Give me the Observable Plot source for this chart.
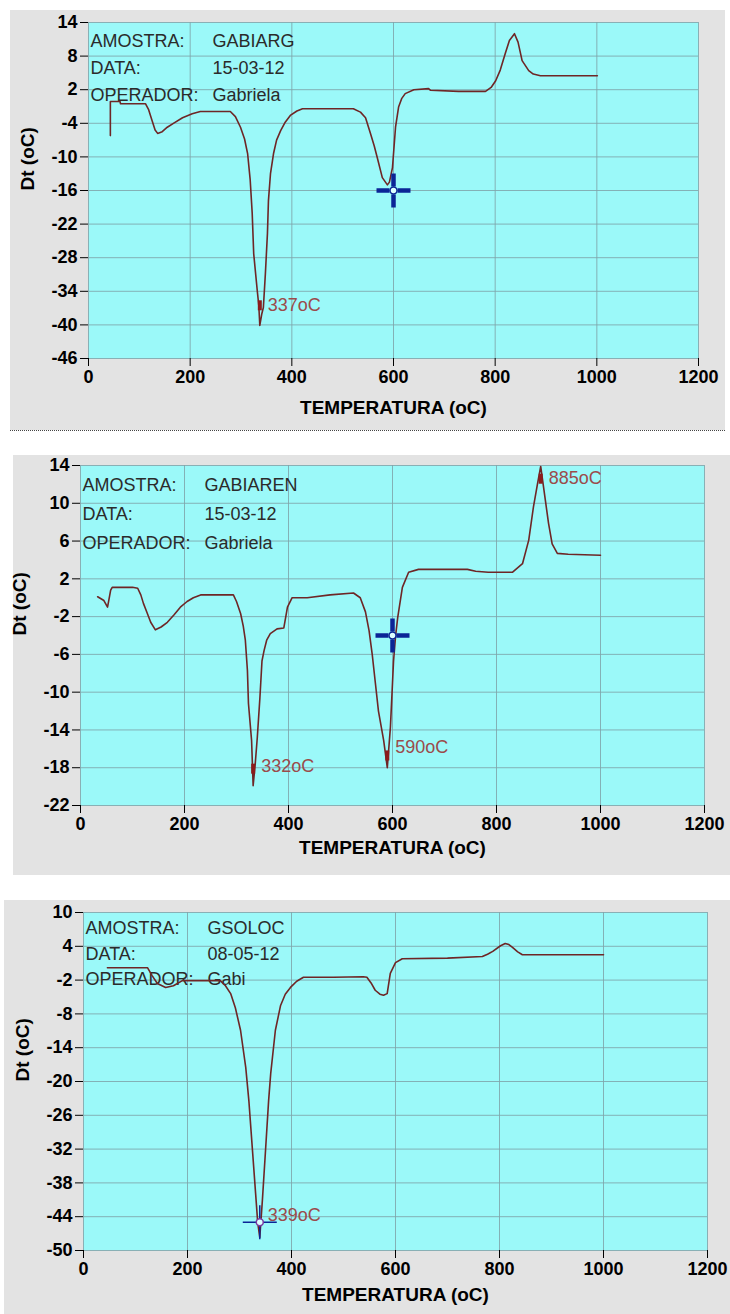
<!DOCTYPE html>
<html>
<head>
<meta charset="utf-8">
<script src="https://cdn.jsdelivr.net/npm/d3@7"></script>
<script src="https://cdn.jsdelivr.net/npm/@observablehq/plot@0.6"></script>
<style>
  html, body { margin: 0; padding: 0; background: #fff; }
  #page { position: relative; width: 730px; height: 1314px; overflow: hidden; background: #fff; }
  .panel { position: absolute; }
  .panel svg { display: block; }
  #p1 { border-bottom: 1px dotted #444; }
</style>
</head>
<body>
<div id="page">
  <div class="panel" id="p1"></div>
  <div class="panel" id="p2"></div>
  <div class="panel" id="p3"></div>
</div>
<script>
// Shared axis ticks (temperature, °C)
const xTicks = [0, 200, 400, 600, 800, 1000, 1200];
const infoKeys = ["AMOSTRA:", "DATA:", "OPERADOR:"];

// ---- Sample GABIARG ----
const gabiargInfo = ["GABIARG", "15-03-12", "Gabriela"];
const gabiargYTicks = [14, 8, 2, -4, -10, -16, -22, -28, -34, -40, -46];
const gabiargTemp = [43, 43, 62, 63, 112, 118, 125, 131, 136, 145, 155, 167, 185, 204, 220, 279, 289, 299, 307, 313, 318, 322, 325, 332, 335, 337, 341, 344, 348, 352, 354, 358, 364, 370, 378, 387, 397, 410, 421, 521, 535, 545, 555, 562, 568, 578, 588, 592, 598, 604, 610, 616, 623, 640, 669, 673, 728, 781, 792, 801, 810, 820, 828, 838, 845, 853, 866, 875, 889, 1001];
const gabiargDt = [-6.2, -0.1, -0.1, -0.5, -0.5, -1.5, -3.5, -5.2, -5.8, -5.5, -4.7, -4.0, -3.0, -2.3, -1.9, -1.9, -2.8, -4.7, -6.8, -9.4, -14, -20, -27.3, -33.9, -36.5, -40.1, -38, -36.9, -30.8, -23.7, -17.8, -13, -9.4, -7, -5.3, -3.8, -2.6, -1.8, -1.4, -1.4, -2, -3, -5.9, -8, -10.1, -13.7, -15, -14.5, -11.9, -4.7, -1.1, 0.4, 1.3, 2.0, 2.2, 1.9, 1.7, 1.7, 2.4, 3.6, 5.5, 8.5, 10.8, 12.0, 10.5, 7.2, 5.4, 4.8, 4.5, 4.5];
const gabiargPeakT = [337];
const gabiargPeakMarkDt = [-36.5];
const gabiargPeakLabelDt = [-36.5];
const gabiargCursor = [600, -16];

// ---- Sample GABIAREN ----
const gabiarenInfo = ["GABIAREN", "15-03-12", "Gabriela"];
const gabiarenYTicks = [14, 10, 6, 2, -2, -6, -10, -14, -18, -22];
const gabiarenTemp = [33, 45, 52, 56, 58, 61, 100, 110, 116, 121, 128, 135, 144, 155, 167, 180, 192, 205, 217, 231, 294, 300, 308, 313, 317, 321, 323, 329, 332, 336, 340, 345, 349, 353, 358, 365, 378, 391, 398, 407, 436, 480, 525, 538, 548, 555, 561, 567, 573, 583, 590, 596, 602, 606, 610, 619, 631, 650, 744, 760, 784, 831, 850, 862, 871, 879, 885, 894, 900, 907, 917, 938, 1000];
const gabiarenDt = [0.1, -0.3, -1.0, 0.2, 0.8, 1.1, 1.1, 1.0, 0.3, -0.6, -1.6, -2.6, -3.4, -3.1, -2.6, -1.8, -1.0, -0.4, 0, 0.3, 0.3, -0.4, -1.7, -3, -4.5, -7.7, -11.2, -15.1, -19.9, -17.6, -14.8, -10.6, -6.7, -5.6, -4.5, -3.8, -3.3, -3.2, -1.0, 0, 0, 0.3, 0.5, 0, -1.5, -3.5, -6.0, -9, -12, -15.1, -18, -13.7, -6.7, -4, -2.1, 1.1, 2.7, 3.0, 3.0, 2.8, 2.7, 2.7, 3.6, 6.1, 9.6, 12.1, 13.9, 10.3, 7.9, 5.7, 4.7, 4.6, 4.5];
const gabiarenPeakT = [332, 590, 885];
const gabiarenPeakMarkDt = [-18.1, -16.7, 12.6];
const gabiarenPeakLabelDt = [-17.8, -15.8, 12.7];
const gabiarenCursor = [600, -4];

// ---- Sample GSOLOC ----
const gsolocInfo = ["GSOLOC", "08-05-12", "Gabi"];
const gsolocYTicks = [10, 4, -2, -8, -14, -20, -26, -32, -38, -44, -50];
const gsolocTemp = [46, 123, 132, 142, 158, 173, 190, 263, 273, 283, 292, 302, 312, 318, 325, 331, 335, 339, 344, 350, 356, 360, 369, 379, 388, 398, 410, 423, 481, 538, 545, 553, 561, 570, 577, 584, 590, 600, 613, 700, 767, 777, 787, 802, 811, 818, 825, 835, 844, 1000];
const gsolocDt = [0.2, 0.2, -1.2, -2.6, -3.3, -3.0, -2.1, -2.1, -3, -4.4, -6.9, -10.9, -17.5, -23.4, -32.3, -39.9, -45, -47.7, -41.1, -32.3, -23.4, -18.6, -10.9, -6.5, -4.5, -3.3, -2.2, -1.5, -1.5, -1.4, -1.5, -2.5, -3.8, -4.5, -4.7, -4.4, -0.8, 1.1, 1.8, 1.9, 2.2, 2.6, 3.1, 4.1, 4.5, 4.3, 3.8, 3.0, 2.5, 2.5];
const gsolocPeakT = [339];
const gsolocPeakMarkDt = [];
const gsolocPeakLabelDt = [-43.8];
const gsolocCursor = [339, -45];

// Colours
const plotBg = "#9bf9f9";
const panelBg = "#e3e3e3";
const gridColor = "#7fa4aa";
const traceColor = "#6e2626";
const peakColor = "#8b1c1c";
const peakTextColor = "#9b4b4b";
const cursorColor = "#0b2596";

const axisFont = "'Liberation Sans', Arial, sans-serif";

// Custom symbols for the cursor cross and the peak marker
const crossThick = {
  draw(ctx) {
    ctx.moveTo(-17, 0); ctx.lineTo(-4, 0);
    ctx.moveTo(4, 0); ctx.lineTo(17, 0);
    ctx.moveTo(0, -17); ctx.lineTo(0, -4);
    ctx.moveTo(0, 4); ctx.lineTo(0, 17);
  }
};
const crossThin = {
  draw(ctx) {
    ctx.moveTo(-17, 0); ctx.lineTo(17, 0);
    ctx.moveTo(0, -17); ctx.lineTo(0, 17);
  }
};
const peakBar = {
  draw(ctx) { ctx.rect(-2, -5, 4, 10); }
};

function thermogram(cfg) {
  const trace = cfg.temp.map((t, i) => ({t, dt: cfg.dt[i]}));
  const marks = cfg.peakT.filter((t, i) => i < cfg.markDt.length).map((t, i) => ({t, dt: cfg.markDt[i]}));
  const labels = cfg.peakT.map((t, i) => ({t, dt: cfg.labelDt[i]}));
  const cursor = [{t: cfg.cursor[0], dt: cfg.cursor[1]}];
  const info = {fontWeight: "normal", fontSize: 18, fill: "#2b2b2b", lineAnchor: "top", textAnchor: "start", frameAnchor: "top-left", lineHeight: cfg.lineHeight, dy: cfg.infoDy};
  return Plot.plot({
    width: cfg.width,
    height: cfg.height,
    marginLeft: cfg.ml, marginRight: cfg.mr, marginTop: cfg.mt, marginBottom: cfg.mb,
    x: {domain: [0, 1200], label: null},
    y: {domain: cfg.yDomain, label: null},
    style: {background: panelBg, fontFamily: axisFont, fontSize: "18px", fontWeight: "bold", color: "#000", overflow: "visible"},
    marks: [
      Plot.frame({fill: plotBg, stroke: null}),
      Plot.gridX(xTicks, {stroke: gridColor, strokeOpacity: 0.85}),
      Plot.gridY(cfg.yTicks, {stroke: gridColor, strokeOpacity: 0.85}),
      Plot.axisX(xTicks, {tickSize: 8, tickPadding: 4, tickFormat: d => String(d), fontSize: 18}),
      Plot.axisY(cfg.yTicks, {tickSize: 8, tickPadding: 3, tickFormat: d => String(d), fontSize: 18}),
      Plot.text(["TEMPERATURA (oC)"], {text: d => d, frameAnchor: "bottom", dy: cfg.xLabelDy, fontSize: 19}),
      Plot.text(["Dt (oC)"], {text: d => d, frameAnchor: "left", rotate: -90, dx: -61, fontSize: 19}),
      Plot.text([infoKeys.join("\n")], {...info, text: d => d, dx: 2}),
      Plot.text([cfg.info.join("\n")], {...info, text: d => d, dx: 124}),
      Plot.line(trace, {x: "t", y: "dt", stroke: traceColor, strokeWidth: 1.6}),
      Plot.dot(marks, {x: "t", y: "dt", symbol: peakBar, fill: peakColor, stroke: null}),
      Plot.text(labels, {x: "t", y: "dt", text: d => `${d.t}oC`, textAnchor: "start", dx: 8, fill: peakTextColor, fontWeight: "normal", fontSize: 18}),
      cfg.thinCursor
        ? Plot.dot(cursor, {x: "t", y: "dt", symbol: crossThin, fill: "none", stroke: cursorColor, strokeWidth: 1.5})
        : Plot.dot(cursor, {x: "t", y: "dt", symbol: crossThick, fill: "none", stroke: cursorColor, strokeWidth: 4.5}),
      Plot.dot(cursor, {x: "t", y: "dt", r: 3.5, fill: "#dff", stroke: cfg.thinCursor ? "#7a3aa0" : cursorColor, strokeWidth: 1.5})
    ]
  });
}

const panels = [
  {id: "p1", left: 10, top: 10, width: 715, height: 420, ml: 78, mr: 27, mt: 12, mb: 72, xLabelDy: 55,
   yDomain: [-46, 14], yTicks: gabiargYTicks, temp: gabiargTemp, dt: gabiargDt, info: gabiargInfo,
   peakT: gabiargPeakT, markDt: gabiargPeakMarkDt, labelDt: gabiargPeakLabelDt, cursor: gabiargCursor,
   lineHeight: 1.5, infoDy: 5, thinCursor: false},
  {id: "p2", left: 13, top: 455, width: 717, height: 420, ml: 67, mr: 26, mt: 10, mb: 70, xLabelDy: 48,
   yDomain: [-22, 14], yTicks: gabiarenYTicks, temp: gabiarenTemp, dt: gabiarenDt, info: gabiarenInfo,
   peakT: gabiarenPeakT, markDt: gabiarenPeakMarkDt, labelDt: gabiarenPeakLabelDt, cursor: gabiarenCursor,
   lineHeight: 1.6, infoDy: 5, thinCursor: false},
  {id: "p3", left: 4, top: 900, width: 726, height: 414, ml: 79, mr: 23, mt: 12, mb: 64, xLabelDy: 50,
   yDomain: [-50, 10], yTicks: gsolocYTicks, temp: gsolocTemp, dt: gsolocDt, info: gsolocInfo,
   peakT: gsolocPeakT, markDt: gsolocPeakMarkDt, labelDt: gsolocPeakLabelDt, cursor: gsolocCursor,
   lineHeight: 1.4, infoDy: 4, thinCursor: true}
];

for (const cfg of panels) {
  const host = document.getElementById(cfg.id);
  host.style.left = cfg.left + "px";
  host.style.top = cfg.top + "px";
  host.appendChild(thermogram(cfg));
}
</script>
</body>
</html>
